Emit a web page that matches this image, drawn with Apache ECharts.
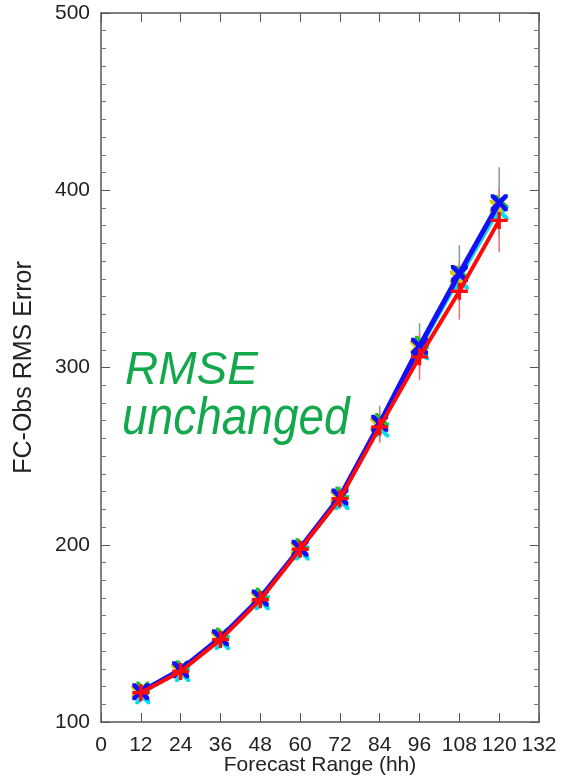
<!DOCTYPE html>
<html><head><meta charset="utf-8">
<script src="https://cdn.jsdelivr.net/npm/echarts@6/dist/echarts.min.js"></script>
<style>html,body{margin:0;padding:0;background:#fff;}#c{width:563px;height:777px;}</style>
</head><body><div id="c"></div>
<script>
const forecastHours = [12, 24, 36, 48, 60, 72, 84, 96, 108, 120];
const xTicks = [0, 12, 24, 36, 48, 60, 72, 84, 96, 108, 120, 132];
const yTicks = [100, 200, 300, 400, 500];
const blueRmse   = [117, 129.5, 147.5, 170, 198, 227, 268.5, 312, 353, 393];
const cyanRmse   = [116, 128.5, 146.5, 169, 197, 225.5, 266.5, 310, 350, 389];
const greenRmse  = [117.5, 129.5, 148, 170.5, 198.5, 227.5, 269, 312.5, 352, 392];
const yellowRmse = [117, 129, 147.5, 170, 198, 227, 268, 311.5, 351, 391];
const redRmse    = [116.5, 128.5, 146.5, 169, 197.5, 226, 266.5, 306, 343, 383];
const blueErr = [2, 2, 3, 3, 4, 6, 10, 13, 16, 20];
const redErr  = [2, 2, 3, 3, 4, 6, 9, 13, 16, 18];

const X_PATH = 'path://M0,0L4,0L10,6L16,0L20,0L20,4L14,10L20,16L20,20L16,20L10,14L4,20L0,20L0,16L6,10L0,4Z';
const PLUS_PATH = 'path://M8,0H12V8H20V12H12V20H8V12H0V8H8Z';

const chart = echarts.init(document.getElementById('c'));
const font = 'Liberation Sans, Arial, sans-serif';

function lineSeries(name, data, color, width, symbol, size, z, offset) {
  return {
    name, type: 'line', data: forecastHours.map((h, i) => [h, data[i]]),
    lineStyle: { color, width }, itemStyle: { color },
    symbol, symbolSize: size, symbolOffset: offset || [0, 0], showSymbol: true, z, animation: false
  };
}
function errSeries(vals, err, color, z) {
  return {
    type: 'custom', z, animation: false,
    data: forecastHours.map((h, i) => [h, vals[i] - err[i], vals[i] + err[i]]),
    renderItem: (params, api) => {
      const p1 = api.coord([api.value(0), api.value(1)]);
      const p2 = api.coord([api.value(0), api.value(2)]);
      return { type: 'line', shape: { x1: p1[0], y1: p1[1], x2: p2[0], y2: p2[1] },
        style: { stroke: color, lineWidth: 1.5 } };
    }
  };
}
const axLine = () => ({ show: true, onZero: false, lineStyle: { color: '#555', width: 1.5 } });
const tick = () => ({ show: true, inside: true, length: 9, lineStyle: { color: '#555', width: 1 } });
const minor = () => ({ show: true, splitNumber: 10, length: 5, lineStyle: { color: '#777', width: 1 } });

chart.setOption({
  backgroundColor: '#fff',
  animation: false,
  grid: { left: 101, right: 24, top: 13, bottom: 55, containLabel: false, outerBoundsMode: 'none' },
  xAxis: [{
    type: 'value', position: 'bottom', min: 0, max: 132, interval: 12,
    name: 'Forecast Range (hh)', nameLocation: 'middle', nameGap: 33, nameMoveOverlap: false,
    nameTextStyle: { fontFamily: font, fontSize: 21, color: '#222' },
    axisLine: axLine(), axisTick: tick(),
    axisLabel: { fontFamily: font, fontSize: 21, color: '#222', margin: 13 },
    splitLine: { show: false }
  }, {
    type: 'value', position: 'top', min: 0, max: 132, interval: 12,
    axisLine: axLine(), axisTick: tick(),
    axisLabel: { show: false }, splitLine: { show: false }
  }],
  yAxis: [{
    type: 'value', position: 'left', min: 100, max: 500, interval: 100,
    name: 'FC-Obs RMS Error', nameLocation: 'middle', nameGap: 64, nameRotate: 90, nameMoveOverlap: false,
    nameTextStyle: { fontFamily: font, fontSize: 25, color: '#222' },
    axisLine: axLine(), axisTick: tick(), minorTick: minor(),
    axisLabel: { fontFamily: font, fontSize: 21, color: '#222', margin: 11 },
    splitLine: { show: false }
  }, {
    type: 'value', position: 'right', min: 100, max: 500, interval: 100,
    axisLine: axLine(), axisTick: tick(), minorTick: minor(),
    axisLabel: { show: false }, splitLine: { show: false }
  }],
  graphic: [
    { type: 'text', left: 125, top: 348, z: 100,
      style: { text: 'RMSE', fontFamily: font, fontStyle: 'italic', fontSize: 46, fill: '#14a84c' } },
    { type: 'text', x: 122, y: 394, scaleY: 1.12, z: 100,
      style: { text: 'unchanged', fontFamily: font, fontStyle: 'italic', fontSize: 46, fill: '#14a84c' } }
  ],
  series: [
    errSeries(blueRmse, blueErr, '#7f9f8f', 1),
    errSeries(redRmse, redErr, '#f07070', 1),
    lineSeries('cyan', cyanRmse, '#00e0e8', 3, X_PATH, 15, 2, [2, 3]),
    lineSeries('green', greenRmse, '#20c020', 2, X_PATH, 13, 2, [2, -3]),
    lineSeries('yellow', yellowRmse, '#d8c800', 2, X_PATH, 13, 2, [-3, 0]),
    lineSeries('blue', blueRmse, '#1010ff', 5, X_PATH, 17, 3),
    lineSeries('red', redRmse, '#ff0a0a', 4, PLUS_PATH, 17, 5)
  ]
});
</script></body></html>
